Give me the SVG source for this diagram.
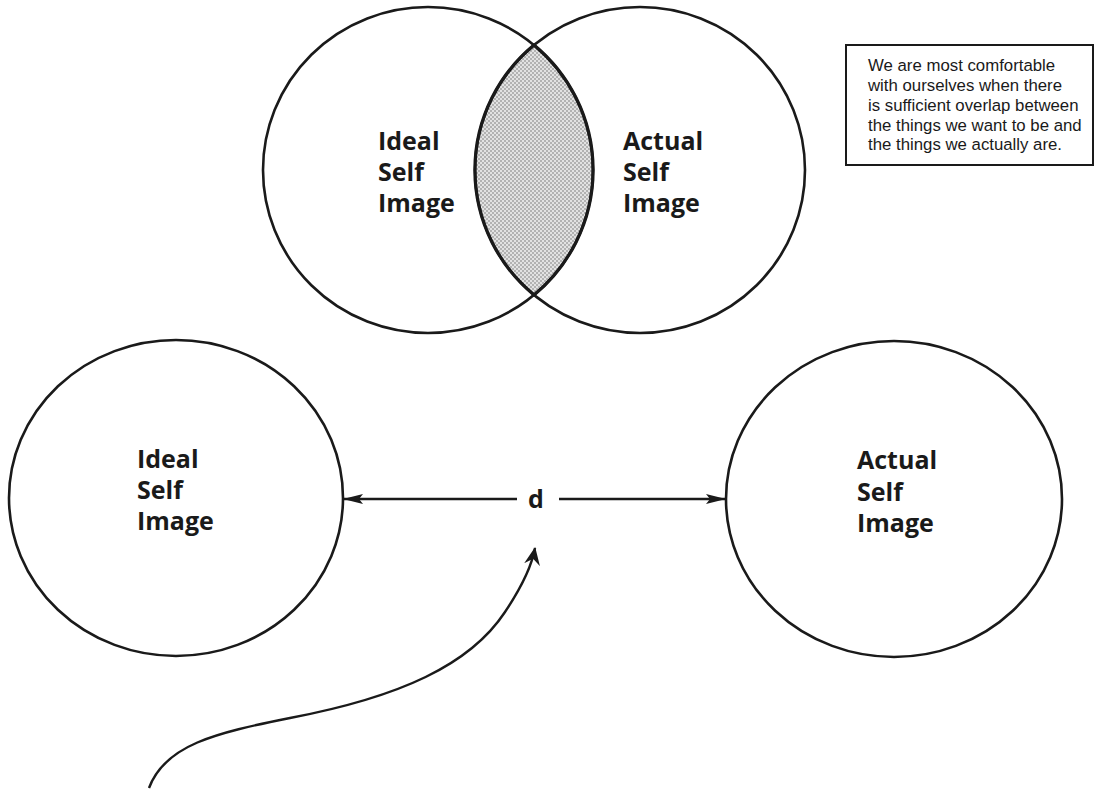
<svg xmlns="http://www.w3.org/2000/svg" width="1095" height="792" viewBox="0 0 1095 792">
  <style>
    .ring { fill: none; stroke: #1a1a1a; stroke-width: 2.6; }
    .lbl { font-family: "Open Sans", "Liberation Sans", sans-serif; font-weight: 700; font-size: 25px; fill: #1a1a1a; }
    .note { font-family: "Liberation Sans", Arial, sans-serif; font-size: 16.8px; fill: #1a1a1a; }
    .conn { fill: none; stroke: #1a1a1a; stroke-width: 2.4; }
  </style>
  <defs>
    <pattern id="stip" width="4" height="4" patternUnits="userSpaceOnUse">
      <rect width="4" height="4" fill="#e2e2e2"/>
      <rect x="0" y="0" width="2" height="2" fill="#b2b2b2"/>
      <rect x="2" y="2" width="2" height="2" fill="#b2b2b2"/>
    </pattern>
    <marker id="ah" viewBox="0 0 20 10" refX="19" refY="5" markerWidth="20" markerHeight="10" markerUnits="userSpaceOnUse" orient="auto">
      <path d="M0,0 L20,5 L0,10 L4,5 z" fill="#1a1a1a"/>
    </marker>
    <marker id="ah2" viewBox="0 0 18 18" refX="17" refY="9" markerWidth="18" markerHeight="18" markerUnits="userSpaceOnUse" orient="auto">
      <path d="M0,1 L18,9 L0,17 L6,9 z" fill="#1a1a1a"/>
    </marker>
  </defs>
  <rect width="1095" height="792" fill="#ffffff"/>

  <g id="node-overlap">
    <path d="M534,45 A165,163 0 0,0 534,295 A165,163 0 0,0 534,45 Z" fill="url(#stip)" stroke="#1a1a1a" stroke-width="3.2"/>
  </g>

  <g id="node-ideal-top">
    <ellipse class="ring" cx="428" cy="170" rx="165" ry="163"/>
    <text class="lbl" x="378" y="150">Ideal</text>
    <text class="lbl" x="378" y="181">Self</text>
    <text class="lbl" x="378" y="212">Image</text>
  </g>

  <g id="node-actual-top">
    <ellipse class="ring" cx="640" cy="170" rx="165" ry="163"/>
    <text class="lbl" x="623" y="150">Actual</text>
    <text class="lbl" x="623" y="181">Self</text>
    <text class="lbl" x="623" y="212">Image</text>
  </g>

  <g id="node-note">
    <rect x="846" y="45" width="247" height="120" fill="#ffffff" stroke="#1a1a1a" stroke-width="2"/>
    <text class="note" x="868" y="71">We are most comfortable</text>
    <text class="note" x="868" y="91">with ourselves when there</text>
    <text class="note" x="868" y="111">is sufficient overlap between</text>
    <text class="note" x="868" y="131">the things we want to be and</text>
    <text class="note" x="868" y="150">the things we actually are.</text>
  </g>

  <g id="node-ideal-bottom">
    <ellipse class="ring" cx="176" cy="498" rx="167" ry="158"/>
    <text class="lbl" x="137" y="468">Ideal</text>
    <text class="lbl" x="137" y="499">Self</text>
    <text class="lbl" x="137" y="530">Image</text>
  </g>

  <g id="node-actual-bottom">
    <ellipse class="ring" cx="894" cy="499" rx="168" ry="158"/>
    <text class="lbl" x="857" y="469">Actual</text>
    <text class="lbl" x="857" y="501">Self</text>
    <text class="lbl" x="857" y="532">Image</text>
  </g>

  <g id="connectors">
    <line class="conn" x1="517" y1="499" x2="344" y2="499" marker-end="url(#ah)"/>
    <line class="conn" x1="559" y1="499" x2="725" y2="499" marker-end="url(#ah)"/>
    <text class="lbl" x="536" y="508" text-anchor="middle" font-size="22">d</text>
    <path class="conn" d="M149,788 C165,745 215,733 290,718 C400,697 470,665 505,612 C523,585 532,565 535,548" marker-end="url(#ah2)"/>
  </g>
</svg>
